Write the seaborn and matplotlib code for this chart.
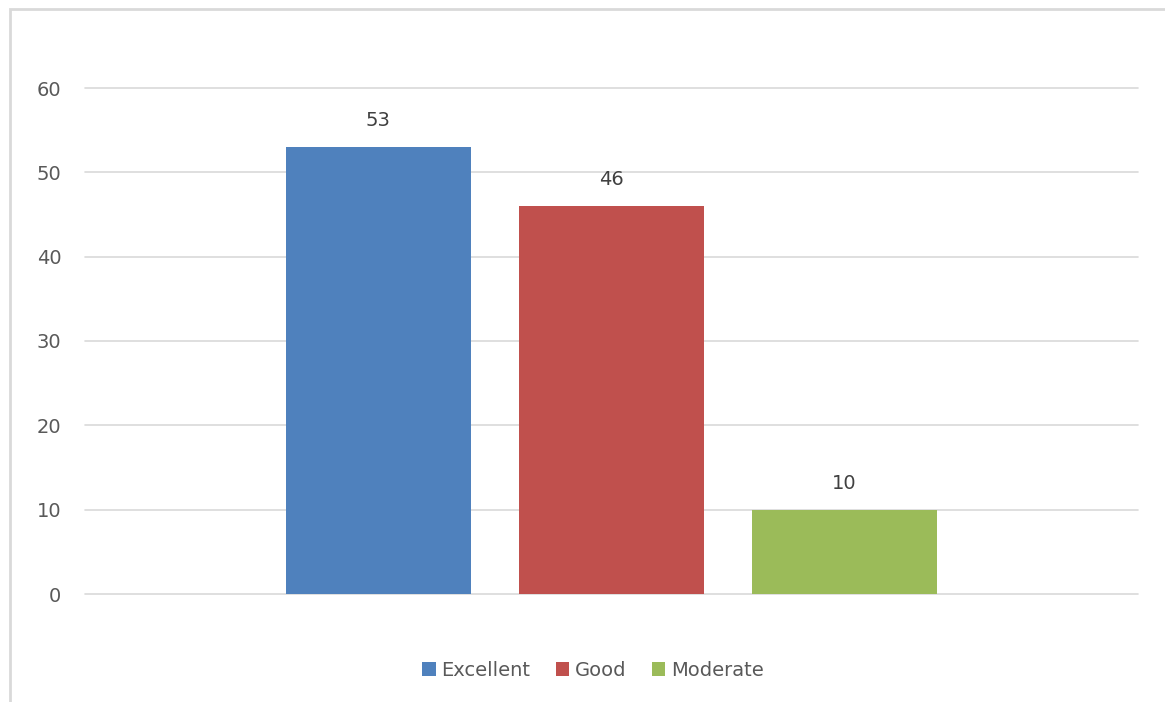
import matplotlib
matplotlib.use("Agg")
import matplotlib.pyplot as plt
import seaborn as sns
import pandas as pd
from matplotlib.patches import Rectangle

categories = ["Excellent", "Good", "Moderate"]
values = [53, 46, 10]
colors = ["#4F81BD", "#C0504D", "#9BBB59"]
yticks = [0, 10, 20, 30, 40, 50, 60]

df = pd.DataFrame({"group": [""] * len(categories), "rating": categories, "count": values})

sns.set_theme(style="white")
plt.rcParams["font.family"] = ["DejaVu Sans"]

W, H = 1165, 702
fig = plt.figure(figsize=(W / 100, H / 100), dpi=100)
ax = fig.add_axes([85 / W, 1 - 594 / H, (1138 - 85) / W, (594 - 88) / H])

sns.barplot(data=df, x="group", y="count", hue="rating", hue_order=categories,
            palette=colors, width=0.664, gap=0.206, saturation=1, ax=ax,
            legend=True, linewidth=0, edgecolor="none")

ax.set_xlim(-0.5, 0.5)
ax.set_ylim(0, 60)
ax.set_yticks(yticks)
ax.set_yticklabels([str(t) for t in yticks])
ax.set_xticks([])
ax.set_xlabel("")
ax.set_ylabel("")
ax.yaxis.grid(True, color="#D9D9D9", linewidth=1.2)
ax.set_axisbelow(True)
for gl in ax.get_ygridlines():
    gl.set_clip_on(False)
for s in ax.spines.values():
    s.set_visible(False)
ax.tick_params(axis="y", length=0, pad=17, labelsize=14, labelcolor="#595959")

for cont in ax.containers:
    ax.bar_label(cont, labels=[f"{int(v)}" for v in cont.datavalues], padding=12,
                 fontsize=14, color="#404040")

leg = ax.legend(loc="center", bbox_to_anchor=(593 / W, 1 - 670 / H),
                bbox_transform=fig.transFigure, ncol=3, frameon=False,
                fontsize=14, handlelength=0.7, handleheight=0.7,
                handletextpad=0.3, columnspacing=1.3, labelcolor="#595959")

fig.patches.append(Rectangle((10 / W, -0.05), 1.1, 1 - 9 / H + 0.05,
                             transform=fig.transFigure, fill=False,
                             edgecolor="#D9D9D9", linewidth=2))

fig.savefig("out.png", dpi=100, facecolor="white")
